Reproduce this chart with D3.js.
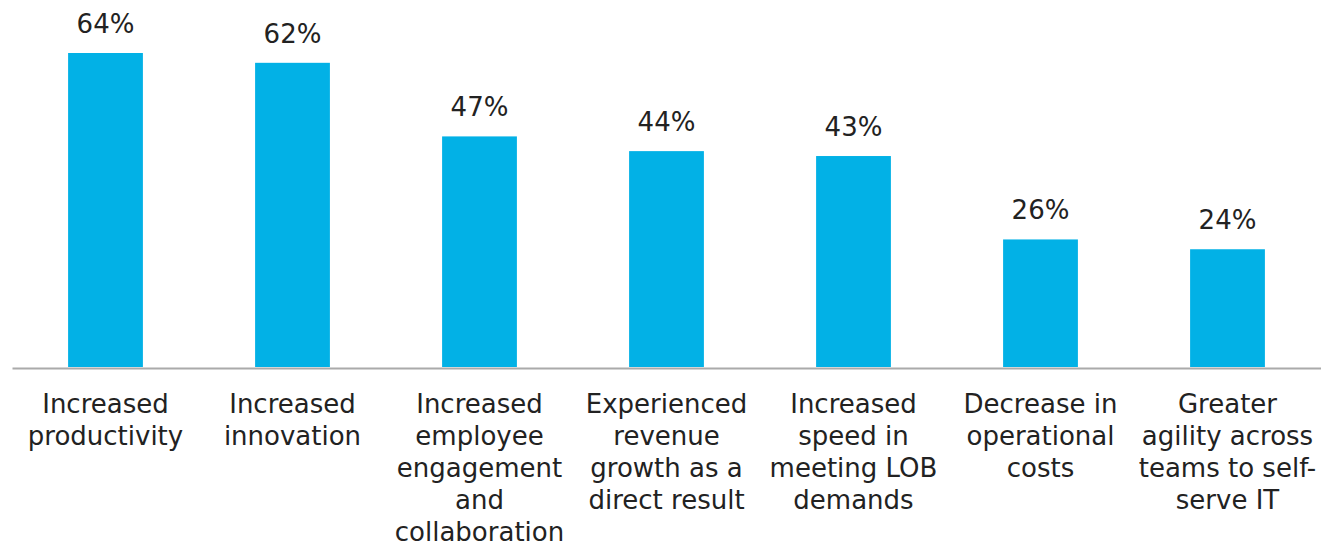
<!DOCTYPE html>
<html>
<head>
<meta charset="utf-8">
<script src="https://cdn.jsdelivr.net/npm/d3@7"></script>
<style>
  html, body { margin: 0; padding: 0; background: #fff; }
  svg { display: block; }
  text { font-family: "DejaVu Sans", Verdana, sans-serif; fill: #222; }
</style>
</head>
<body>
<svg id="chart" width="1321" height="543"></svg>
<script>
// Reported benefits, share of respondents (%)
const categories = [
  "Increased\nproductivity",
  "Increased\ninnovation",
  "Increased\nemployee\nengagement\nand\ncollaboration",
  "Experienced\nrevenue\ngrowth as a\ndirect result",
  "Increased\nspeed in\nmeeting LOB\ndemands",
  "Decrease in\noperational\ncosts",
  "Greater\nagility across\nteams to self-\nserve IT"
];
const values = [64, 62, 47, 44, 43, 26, 24];
const valueLabels = ["64%", "62%", "47%", "44%", "43%", "26%", "24%"];

const svg = d3.select("#chart");
const baseline = 367;

const x = d3.scaleBand()
  .domain(categories)
  .range([12, 1321])
  .paddingInner(0.6)
  .paddingOuter(0.3);

const y = d3.scaleLinear()
  .domain([0, 64])
  .range([baseline, 53]);

// bars
svg.append("g").selectAll("rect")
  .data(values)
  .join("rect")
  .attr("x", (d, i) => x(categories[i]))
  .attr("y", d => y(d))
  .attr("width", x.bandwidth())
  .attr("height", d => baseline - y(d))
  .attr("fill", "#02b1e6");

// baseline axis
const axis = svg.append("g")
  .attr("transform", `translate(0,${baseline + 1})`)
  .call(d3.axisBottom(x).tickSize(0).tickFormat(""));
axis.select(".domain").attr("stroke", "#aaaaaa").attr("stroke-width", 2);

// value labels
svg.append("g").selectAll("text")
  .data(values)
  .join("text")
  .attr("x", (d, i) => x(categories[i]) + x.bandwidth() / 2)
  .attr("y", d => y(d) - 20)
  .attr("text-anchor", "middle")
  .attr("font-size", 26)
  .text((d, i) => valueLabels[i]);

// category labels, wrapped on line breaks
const cat = svg.append("g").selectAll("text")
  .data(categories)
  .join("text")
  .attr("x", d => x(d) + x.bandwidth() / 2)
  .attr("y", baseline + 46)
  .attr("text-anchor", "middle")
  .attr("font-size", 26);
cat.each(function(d) {
  const t = d3.select(this);
  d.split("\n").forEach((line, i) => {
    t.append("tspan")
      .attr("x", x(d) + x.bandwidth() / 2)
      .attr("dy", i === 0 ? 0 : 32)
      .text(line);
  });
});
</script>
</body>
</html>
